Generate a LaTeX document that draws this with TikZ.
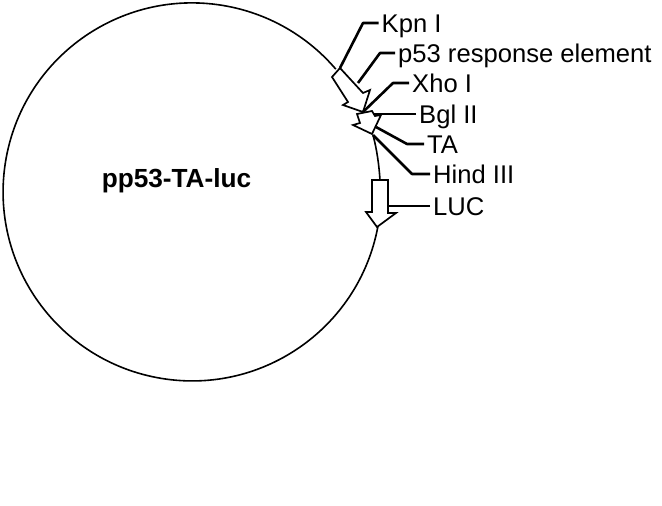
\documentclass[tikz,border=0pt]{standalone}
\usepackage{fontspec}
\setmainfont{Liberation Sans}
\tikzset{
  every picture/.style={x=1pt,y=-1pt},
  lab/.style={anchor=west,inner ysep=0pt,inner xsep=3pt,text height=18pt,text depth=0pt,font=\fontsize{25.6}{26}\selectfont},
  title/.style={inner sep=0pt,font=\fontsize{26.2}{27}\selectfont\bfseries},
  leader/.style={line width=2.6pt,line join=round},
  feature/.style={draw=black,fill=white,line width=1.7pt,line join=miter},
  backbone/.style={line width=1.6pt}
}
\begin{document}
\begin{tikzpicture}
\useasboundingbox (0,0) rectangle (662,506);
% backbone
\draw[backbone] (377.8,227) arc[start angle=10.7,end angle=319.5,radius=189];
\coordinate (backS) at (373,135);
\coordinate (backE) at (380,180);
\draw[backbone] (backS) .. controls (377,150) and (379,165) .. (backE);
% features
\draw[feature] (332,77) -- (348,102) -- (343,105) -- (363,112) -- (370,90) -- (363,93) -- (340,68) -- cycle;
\draw[feature] (357,114) -- (360,123) -- (353,125) -- (372,134) -- (381,115) -- (375,116) -- (372,111) -- cycle;
\draw[feature] (372,180) -- (388,180) -- (388,213) -- (396,213) -- (377,227) -- (366,212) -- (372,212) -- cycle;
% labels
\node[title] (name) at (176.5,181) {pp53-TA-luc};
\node[lab] (kpn) at (378.5,23) {Kpn I};
\node[lab] (p53) at (395,53) {p53 response element};
\node[lab] (xho) at (409,83) {Xho I};
\node[lab] (bgl) at (416,114) {Bgl II};
\node[lab] (ta) at (424,144) {TA};
\node[lab] (hind) at (430,174) {Hind III};
\node[lab] (luc) at (430,206) {LUC};
% leaders
\coordinate (kpnE) at (340,68);
\coordinate (p53E) at (358,83);
\coordinate (xhoE) at (363,112);
\coordinate (bglE) at (373,114);
\coordinate (taE) at (376,127);
\coordinate (hindE) at (373,135);
\coordinate (lucE) at (388,206);
\draw[leader] (kpn.west) -- (363,23) -- (kpnE);
\draw[leader] (p53.west) -- (380,53) -- (p53E);
\draw[leader] (xho.west) -- (393,83) -- (xhoE);
\draw[leader] (bgl.west) -- (bglE);
\draw[leader] (ta.west) -- (407,144) -- (taE);
\draw[leader] (hind.west) -- (412,174) -- (hindE);
\draw[leader] (luc.west) -- (lucE);
\end{tikzpicture}
\end{document}
